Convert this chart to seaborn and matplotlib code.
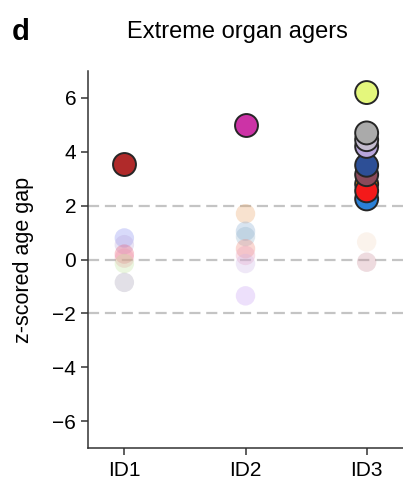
import matplotlib
matplotlib.use("Agg")
import matplotlib.pyplot as plt
import seaborn as sns
import pandas as pd

# Individuals shown on the x axis
individuals = ["ID1", "ID2", "ID3"]

# Organs that are not extreme for the individual (drawn faded)
bg_id = ["ID1", "ID1", "ID1", "ID1", "ID1", "ID1",
         "ID2", "ID2", "ID2", "ID2", "ID2", "ID2", "ID2",
         "ID3", "ID3"]
bg_gap = [0.8, 0.55, 0.2, 0.05, -0.15, -0.85,
          1.7, 1.05, 0.85, 0.4, 0.15, -0.15, -1.35,
          0.65, -0.1]
bg_color = ["#7f86f0", "#b7a3d9", "#e8506a", "#f08fa8", "#bfe39a", "#a09ab0",
            "#e8a060", "#7ea6d0", "#8fb0c8", "#f08070", "#e898b8", "#cdb6e6", "#c49af2",
            "#f4d9c2", "#c78a96"]

# Extreme organ agers (highlighted)
ex_id = ["ID1", "ID2",
         "ID3", "ID3", "ID3", "ID3", "ID3", "ID3", "ID3", "ID3", "ID3"]
ex_gap = [3.55, 5.0,
          2.25, 2.8, 2.55, 3.15, 3.5, 4.2, 4.45, 4.7, 6.2]
ex_color = ["#b02a2a", "#cc33a6",
            "#2b80d6", "#e08a00", "#f41a1a", "#8a4a5a", "#2d4f96", "#b9a6dc", "#c4bcd0", "#aaaaaa", "#e4f77c"]

bg = pd.DataFrame({"individual": bg_id, "gap": bg_gap, "color": bg_color})
ex = pd.DataFrame({"individual": ex_id, "gap": ex_gap, "color": ex_color})

sns.set_style("ticks")
plt.rcParams["font.family"] = ["Liberation Sans", "DejaVu Sans"]
plt.rcParams["text.color"] = "black"
plt.rcParams["axes.labelcolor"] = "black"
plt.rcParams["xtick.color"] = "black"
plt.rcParams["ytick.color"] = "black"

fig = plt.figure(figsize=(4.03, 4.86), dpi=100)
ax = fig.add_axes([88 / 403, 1 - 448 / 486, 1 - 88 / 403, (448 - 71) / 486])

for yv in (2, 0, -2):
    ax.axhline(yv, color="#c4c4c4", lw=1.6, ls=(0, (5, 2.6)), zorder=0)

sns.stripplot(data=bg, x="individual", y="gap", hue="color",
              palette={c: c for c in bg_color}, order=individuals,
              jitter=False, size=14, linewidth=0, alpha=0.3,
              legend=False, ax=ax, zorder=2)
sns.stripplot(data=ex, x="individual", y="gap", hue="color",
              palette={c: c for c in ex_color}, order=individuals,
              jitter=False, size=16.5, linewidth=1.4, edgecolor="#262626",
              legend=False, ax=ax, zorder=3)

ax.set_xlim(-0.3, 2.3)
ax.set_ylim(-7, 7)
ax.set_yticks([-6, -4, -2, 0, 2, 4, 6])
ax.set_xlabel("")
ax.set_ylabel("z-scored age gap", fontsize=15.5, labelpad=13)
ax.tick_params(axis="both", labelsize=15, length=5, width=1.1, color="#333333")
ax.tick_params(axis="x", pad=4)
for side in ("left", "bottom"):
    ax.spines[side].set_linewidth(1.1)
    ax.spines[side].set_color("#333333")
sns.despine(ax=ax)

ax.set_title("Extreme organ agers", fontsize=17, x=0.473, pad=24)
fig.text(0.028, 1 - 40 / 486, "d", fontsize=21, fontweight="bold")

fig.savefig("out.png", dpi=100)
